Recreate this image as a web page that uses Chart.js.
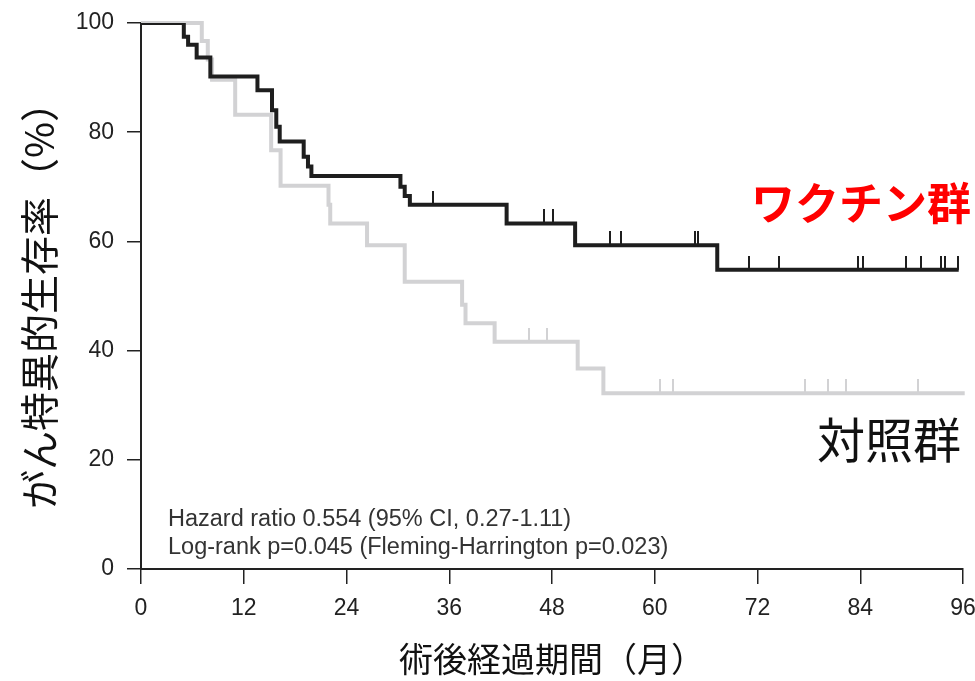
<!DOCTYPE html>
<html>
<head>
<meta charset="utf-8">
<script src="https://cdn.jsdelivr.net/npm/chart.js@4.4.1/dist/chart.umd.min.js"></script>
<style>
  html, body { margin: 0; padding: 0; background: #fff; }
  #wrap { width: 975px; height: 681px; }
</style>
</head>
<body>
<div id="wrap"><canvas id="chart" width="975" height="681"></canvas></div>
<script>
'use strict';

// months after surgery / survival %
const vaccineTimes = [0, 5.0, 5.5, 6.5, 8.1, 13.6, 15.3, 15.8, 16.2, 19.0, 19.5, 19.9, 30.3, 30.8, 31.4, 42.7, 50.7, 67.3, 95.5];
const vaccineSurv  = [100, 97.5, 96.0, 93.7, 90.2, 87.7, 84.0, 81.0, 78.3, 75.5, 73.7, 72.0, 70.0, 68.3, 66.7, 63.3, 59.3, 54.8, 54.8];
const vaccineCensor = [34.1, 47.1, 48.1, 54.8, 56.1, 64.7, 65.1, 71.0, 74.5, 83.7, 84.3, 89.3, 91.1, 93.4, 93.9, 95.4];

const controlTimes = [0, 7.1, 7.8, 8.3, 11.0, 15.2, 16.3, 21.9, 22.1, 26.4, 30.8, 37.5, 37.9, 41.3, 51.0, 54.0, 96.2];
const controlSurv  = [100, 96.7, 93.3, 89.6, 83.2, 76.7, 70.2, 66.7, 63.3, 59.3, 52.6, 48.4, 45.0, 41.6, 36.7, 32.2, 32.2];
const controlCensor = [45.3, 47.4, 60.6, 62.1, 77.5, 80.2, 82.3, 90.7];

const xTicks = [0, 12, 24, 36, 48, 60, 72, 84, 96];
const yTicks = [0, 20, 40, 60, 80, 100];

const statLines = [
  'Hazard ratio 0.554 (95% CI, 0.27-1.11)',
  'Log-rank p=0.045 (Fleming-Harrington p=0.023)'
];

const BLACK = '#1e1e1e';
const GREY = '#d2d2d4';
const numFont = "'Liberation Sans', Arial, sans-serif";
const jpFont = "'Noto Sans CJK JP', 'Noto Sans', sans-serif";

// survival value at time t from a step curve
function survAt(times, surv, t) {
  let s = surv[0];
  for (let i = 0; i < times.length; i++) {
    if (times[i] <= t) s = surv[i];
  }
  return s;
}

// censor mark: only the upper half is painted, so it sticks up from the curve
function censorMark(color) {
  let c = document.createElement('canvas');
  c.width = 2;
  c.height = 28;
  let g = c.getContext('2d');
  g.fillStyle = color;
  g.fillRect(0, 0, 2, 14);
  return c;
}

function toPoints(xs, ys) {
  return xs.map((x, i) => ({ x: x, y: ys[i] }));
}

let labelsPlugin = {
  id: 'labels',
  afterDraw(chart) {
    let ctx = chart.ctx;
    let area = chart.chartArea;
    ctx.save();
    ctx.fillStyle = '#333';
    ctx.font = '23.5px ' + numFont;
    ctx.textAlign = 'left';
    ctx.textBaseline = 'alphabetic';
    ctx.fillText(statLines[0], area.left + 27, area.bottom - 43);
    ctx.fillText(statLines[1], area.left + 27, area.bottom - 15);

    ctx.textAlign = 'right';
    ctx.textBaseline = 'middle';
    ctx.fillStyle = '#ff0000';
    ctx.font = 'bold 44px ' + jpFont;
    ctx.fillText('ワクチン群', 971, 203);
    ctx.fillStyle = '#111';
    ctx.font = '48px ' + jpFont;
    ctx.fillText('対照群', 961, 440);
    ctx.restore();
  }
};

let chartConfig = {
  type: 'scatter',
  data: {
    datasets: [
      {
        label: 'ワクチン群',
        data: toPoints(vaccineTimes, vaccineSurv),
        showLine: true,
        stepped: true,
        borderColor: BLACK,
        borderWidth: 4,
        pointRadius: 0,
        order: 1
      },
      {
        label: 'ワクチン群 censor',
        data: vaccineCensor.map(t => ({ x: t, y: survAt(vaccineTimes, vaccineSurv, t) })),
        showLine: false,
        pointStyle: censorMark(BLACK),
        order: 0
      },
      {
        label: '対照群',
        data: toPoints(controlTimes, controlSurv),
        showLine: true,
        stepped: true,
        borderColor: GREY,
        borderWidth: 4,
        pointRadius: 0,
        clip: false,
        order: 3
      },
      {
        label: '対照群 censor',
        data: controlCensor.map(t => ({ x: t, y: survAt(controlTimes, controlSurv, t) })),
        showLine: false,
        pointStyle: censorMark(GREY),
        order: 2
      }
    ]
  },
  options: {
    responsive: false,
    animation: false,
    layout: { padding: { top: 23, right: 12, left: 0, bottom: 0 } },
    plugins: {
      legend: { display: false },
      tooltip: { enabled: false }
    },
    scales: {
      x: {
        type: 'linear',
        min: 0,
        max: 96,
        afterBuildTicks: scale => { scale.ticks = xTicks.map(v => ({ value: v })); },
        afterFit: scale => {
          scale.height = 112;
          scale.paddingLeft = 0;
          scale.paddingRight = 0;
        },
        grid: { drawOnChartArea: false, drawTicks: true, tickLength: 15, color: '#222', lineWidth: 1.5 },
        border: { display: true, color: '#222', width: 2 },
        ticks: { color: '#222', font: { family: numFont, size: 23 }, padding: 11, maxRotation: 0 },
        title: {
          display: true,
          text: '術後経過期間（月）',
          color: '#111',
          font: { family: jpFont, size: 34 },
          padding: { top: 0, bottom: 2 }
        }
      },
      y: {
        type: 'linear',
        min: 0,
        max: 100,
        afterBuildTicks: scale => { scale.ticks = yTicks.map(v => ({ value: v })); },
        afterFit: scale => {
          scale.width = 141;
          scale.paddingTop = 0;
          scale.paddingBottom = 0;
        },
        grid: { drawOnChartArea: false, drawTicks: true, tickLength: 14, color: '#222', lineWidth: 1.5 },
        border: { display: true, color: '#222', width: 2 },
        ticks: { color: '#222', font: { family: numFont, size: 23 }, padding: 13 },
        title: {
          display: true,
          text: 'がん特異的生存率（%）',
          color: '#111',
          font: { family: jpFont, size: 39 },
          padding: { top: 16, bottom: 0 }
        }
      }
    }
  },
  plugins: [labelsPlugin]
};

let myChart = new Chart(document.getElementById('chart'), chartConfig);
</script>
</body>
</html>
